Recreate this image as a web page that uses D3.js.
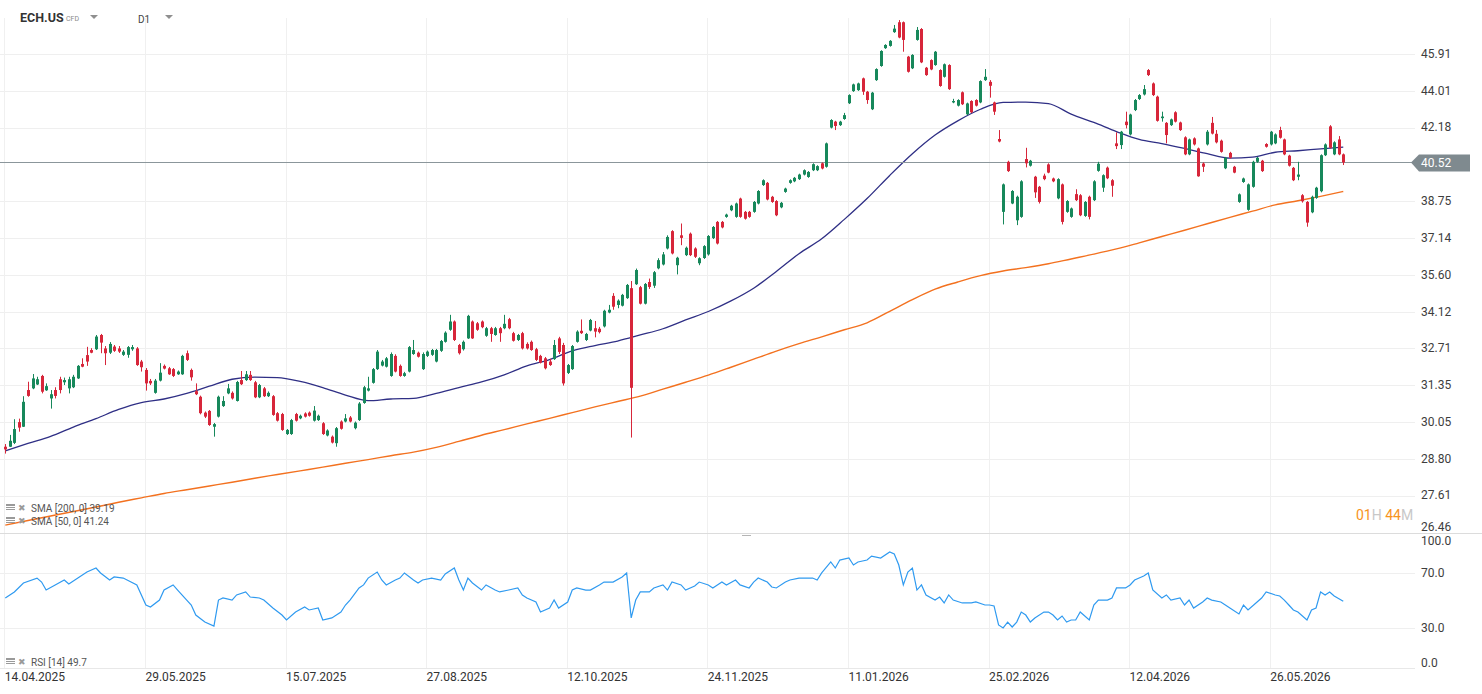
<!DOCTYPE html>
<html><head><meta charset="utf-8">
<script src="https://cdn.jsdelivr.net/npm/d3@7"></script>
<style>
body{margin:0;background:#fff;overflow:hidden}
svg{display:block;font-family:Roboto,"Noto Sans",sans-serif}
</style></head><body>
<svg id="c" width="1482" height="694"></svg>
<script>
// ---------- DATA ----------
const symbol = "ECH.US", symbolType = "CFD", interval = "D1";
const open = [
29.21,29.21,29.34,30.05,29.89,31.18,31.24,31.38,31.69,31.17,
30.88,31.18,31.57,31.46,31.24,31.28,31.60,32.13,32.46,32.65,
32.68,33.22,32.71,32.55,32.78,32.71,32.47,32.47,32.68,32.71,
32.22,31.91,31.51,31.08,31.52,32.06,31.97,31.94,31.75,31.75,
32.53,31.91,31.14,30.94,30.38,30.44,29.89,30.24,30.61,31.06,
31.08,30.79,31.54,31.54,31.73,31.46,30.92,31.24,30.96,30.96,
30.36,30.33,29.64,29.64,30.33,30.18,30.35,30.38,30.10,30.12,
30.01,29.59,29.55,29.33,30.07,30.07,30.21,29.84,30.12,30.72,
31.16,31.44,31.94,32.07,32.03,31.69,32.43,32.06,31.69,31.85,
32.50,32.55,31.94,32.43,32.47,32.22,32.62,32.96,33.42,33.74,
32.84,32.68,33.09,33.74,33.67,33.74,33.19,33.48,33.22,33.48,
33.48,33.83,33.29,33.03,33.29,32.88,32.96,32.68,32.43,32.34,
32.22,32.31,33.09,32.84,31.80,31.94,32.96,33.38,33.03,33.39,
33.48,33.46,33.55,34.09,34.75,34.39,34.36,34.66,35.06,35.22,
35.10,34.44,35.31,35.16,35.87,36.03,36.70,37.44,36.00,37.26,
36.42,37.33,36.70,36.08,36.30,36.45,37.14,37.84,37.84,38.06,
38.35,38.06,38.87,38.28,38.28,38.28,38.65,39.48,39.58,38.95,
38.76,38.48,39.17,39.58,39.65,39.75,39.96,39.85,40.16,40.16,
40.48,40.32,42.18,42.47,42.30,42.60,43.38,43.99,44.04,44.64,
43.96,43.08,44.55,45.28,46.22,46.34,47.08,47.62,47.62,45.77,
45.16,46.66,47.25,45.19,45.59,45.33,45.07,44.72,45.33,43.42,
43.26,43.93,42.83,43.49,43.54,43.42,44.55,44.46,43.42,41.63,
38.28,40.55,38.65,37.91,38.06,40.68,40.37,39.86,39.40,39.91,
40.43,39.78,38.88,39.51,38.28,38.06,39.07,39.02,38.10,38.95,
38.80,40.13,39.36,40.28,39.70,41.42,41.34,42.47,41.85,43.04,
43.59,43.82,45.07,44.38,43.71,42.64,42.41,42.30,42.93,42.43,
41.71,40.90,41.66,41.18,40.47,41.37,42.41,41.88,41.55,40.25,
40.97,40.32,38.72,39.62,38.37,39.40,40.55,40.60,41.39,41.37,
41.42,42.06,41.61,40.84,40.27,39.86,39.02,38.72,38.26,38.90,
39.20,40.86,42.24,40.90,41.61,40.90];
const high = [
29.30,29.61,30.15,30.17,30.96,31.48,31.76,31.66,31.73,31.42,
31.18,31.28,31.66,31.63,31.66,31.73,32.09,32.34,32.77,32.72,
33.22,33.26,32.80,32.95,32.84,32.80,32.65,32.80,32.84,32.76,
32.28,31.98,31.58,31.58,32.16,32.11,32.02,31.98,31.89,32.47,
32.63,31.96,31.42,30.98,30.42,30.47,30.02,30.98,30.96,31.40,
31.13,31.51,31.87,31.87,31.87,31.51,31.40,31.29,31.13,31.00,
30.40,30.37,29.81,30.16,30.37,30.31,30.39,30.42,30.61,30.31,
30.05,29.80,29.59,29.88,30.11,30.33,30.26,30.07,30.75,31.33,
31.66,31.98,32.65,32.28,32.39,32.56,32.49,32.11,31.84,32.80,
33.03,32.59,32.56,32.63,32.69,32.69,33.03,33.36,34.00,33.78,
32.88,33.01,34.00,33.78,33.72,33.78,33.53,33.53,33.53,33.53,
34.00,33.88,33.34,33.26,33.34,32.94,33.01,32.73,32.47,32.39,
32.32,33.03,33.15,32.92,32.13,32.84,33.40,33.82,33.30,33.84,
33.76,33.53,34.20,34.39,34.86,34.61,34.83,35.23,35.35,35.86,
35.15,35.27,35.45,35.76,36.29,36.55,37.26,37.48,36.35,37.77,
36.78,37.38,36.75,36.33,36.84,37.27,37.66,37.88,37.88,38.20,
38.59,38.69,38.91,38.32,38.32,38.76,39.25,39.74,39.62,38.99,
38.80,38.72,39.36,39.74,39.85,40.00,40.20,40.12,40.48,40.39,
40.52,41.46,42.59,42.51,42.51,42.90,43.83,44.37,44.42,44.68,
44.00,43.95,45.16,46.11,46.43,46.65,47.47,47.74,47.66,45.81,
45.90,47.36,47.30,45.23,45.63,46.07,45.11,45.41,45.37,43.60,
43.58,43.97,43.41,43.53,43.58,44.54,45.12,44.55,43.46,42.06,
39.55,40.60,39.25,39.00,39.70,41.21,40.64,39.90,39.44,40.00,
40.48,39.82,39.79,39.55,38.80,38.47,39.29,39.07,38.76,39.00,
39.70,40.55,39.97,40.33,39.75,41.95,42.02,42.96,42.86,43.59,
43.84,44.30,45.12,44.43,43.76,42.96,42.45,42.62,42.98,42.47,
41.76,41.65,41.71,41.22,40.52,42.06,42.70,42.06,41.60,40.78,
41.02,40.36,39.10,39.82,39.55,40.60,40.78,40.64,41.43,42.02,
41.90,42.22,41.65,40.88,40.31,40.55,39.07,38.76,39.00,39.40,
40.90,41.42,42.30,41.52,41.77,40.94];
const low = [
28.98,29.20,29.30,29.72,29.88,30.94,31.21,31.36,31.06,31.15,
30.52,30.88,31.06,31.36,31.06,31.25,31.58,32.01,32.06,32.53,
32.65,32.53,32.09,32.50,32.58,32.54,32.43,32.36,32.62,32.06,
31.85,31.16,31.36,31.05,31.49,31.93,31.73,31.65,31.73,31.73,
32.24,31.52,31.00,30.32,30.19,29.92,29.55,30.21,30.58,31.03,
30.84,30.77,31.36,31.51,31.51,30.89,30.89,30.93,30.93,30.27,
30.07,29.75,29.61,29.61,30.07,30.15,30.21,30.24,30.07,30.09,
29.61,29.56,29.32,29.21,29.79,30.04,30.04,29.80,30.09,30.69,
31.13,31.41,31.91,32.04,32.00,31.66,31.82,31.66,31.66,31.82,
32.47,32.37,31.91,32.39,32.43,32.19,32.58,32.93,33.38,32.99,
32.48,32.63,33.07,33.07,33.38,33.48,33.15,32.96,33.19,32.96,
33.44,33.44,32.97,32.99,32.67,32.67,32.62,32.24,32.15,31.93,
32.06,32.28,32.50,31.34,31.76,31.91,32.93,33.26,32.99,33.36,
33.13,33.28,33.51,34.06,34.20,34.26,34.33,34.63,29.52,35.19,
34.41,34.41,35.03,35.07,35.83,35.99,36.66,36.45,35.62,36.84,
36.38,36.38,36.30,36.00,36.26,36.40,37.10,36.87,37.56,38.02,
38.31,38.02,38.02,37.94,38.02,38.24,38.61,39.44,38.79,38.68,
38.09,38.44,39.13,39.54,39.61,39.71,39.92,39.81,40.12,40.12,
40.20,40.28,42.14,42.06,42.26,42.56,43.34,43.95,44.00,43.80,
43.35,43.04,44.51,45.24,46.18,46.30,47.04,46.75,46.03,44.94,
45.12,46.62,45.43,44.77,45.06,45.29,44.21,44.68,44.05,43.38,
43.22,43.29,42.79,42.89,43.22,43.38,44.51,43.66,42.80,41.47,
37.73,40.08,38.62,37.70,38.02,40.29,40.33,38.90,38.65,39.70,
40.02,39.61,38.84,37.73,38.24,38.02,38.76,38.09,38.06,37.95,
38.76,40.09,39.17,39.75,38.95,41.15,41.15,42.14,41.80,42.99,
43.54,43.77,44.76,43.74,42.47,42.47,41.42,42.26,42.43,42.02,
40.86,40.86,41.32,39.86,40.08,41.32,41.85,41.42,40.98,40.21,
40.70,40.02,38.68,39.58,38.33,39.36,40.50,40.08,41.22,41.32,
41.38,41.65,40.86,40.33,39.66,39.70,38.69,37.63,38.22,38.86,
39.15,40.82,41.17,40.86,40.86,40.40];
const close = [
29.12,29.41,29.81,29.86,30.76,30.97,31.60,31.57,31.12,31.32,
31.03,30.97,31.18,31.54,31.57,31.66,32.06,32.03,32.22,32.55,
33.16,32.93,32.53,32.88,32.62,32.59,32.59,32.76,32.76,32.09,
32.01,31.42,31.42,31.52,31.81,31.96,31.75,31.69,31.85,32.43,
32.28,31.64,31.03,30.36,30.24,29.95,29.98,30.94,30.79,31.24,
30.88,31.47,31.39,31.75,31.54,30.92,31.36,30.96,31.08,30.30,
30.10,29.78,29.78,30.12,30.10,30.27,30.24,30.27,30.45,30.27,
29.64,29.76,29.35,29.84,29.82,30.18,30.07,30.03,30.70,31.28,
31.24,31.94,32.59,32.22,32.34,32.50,31.85,31.69,31.79,32.76,
32.65,32.40,32.50,32.59,32.65,32.65,32.99,33.31,33.74,33.03,
32.53,32.96,33.96,33.09,33.42,33.52,33.48,33.26,33.48,33.29,
33.65,33.48,33.00,33.22,32.71,32.71,32.65,32.28,32.18,31.97,
32.09,32.84,32.58,31.42,32.09,32.80,33.35,33.29,33.26,33.80,
33.35,33.33,34.16,34.20,34.32,34.56,34.79,35.19,31.26,35.80,
34.44,35.23,35.11,35.71,36.21,36.45,37.19,36.49,36.31,37.15,
36.73,36.42,36.35,36.29,36.80,37.23,37.62,36.91,37.60,38.16,
38.55,38.65,38.06,37.98,38.06,38.72,39.21,39.70,38.83,38.72,
38.13,38.68,39.32,39.70,39.81,39.96,40.16,40.08,40.44,40.35,
40.24,41.42,42.55,42.26,42.47,42.79,43.79,44.33,44.38,43.96,
43.54,43.91,45.12,46.07,46.39,46.61,47.27,46.79,46.66,44.98,
45.86,47.20,45.47,44.81,45.10,46.03,44.25,45.37,44.09,43.49,
43.54,43.33,43.37,42.93,43.26,44.50,44.72,44.26,42.96,41.51,
39.51,40.12,39.21,38.95,39.65,40.48,40.60,39.15,38.72,39.75,
40.05,39.65,39.75,37.84,38.76,38.43,38.80,38.13,38.72,38.06,
39.65,40.46,39.93,39.79,39.45,41.29,41.98,42.30,42.82,43.54,
43.79,44.09,44.81,43.79,42.51,42.72,41.82,42.58,42.47,42.06,
40.90,41.61,41.37,39.88,40.32,41.98,41.89,41.47,41.02,40.74,
40.74,40.05,39.06,39.78,39.51,40.55,40.74,40.12,41.26,41.98,
41.85,41.69,40.90,40.37,39.70,39.96,38.75,37.81,38.95,39.36,
40.86,41.37,41.21,41.47,40.90,40.52];

// moving averages at every 5th bar
const smaIdx = [0,5,10,15,20,25,30,35,40,45,50,55,60,65,70,75,80,85,90,95,100,105,110,115,120,125,130,135,140,145,150,155,160,165,170,175,180,185,190,195,200,205,210,215,220,225,230,235,240,245,250,255,260,265,270,275,280,285,290,295];
const sma50 = [29.07,29.32,29.56,29.88,30.17,30.49,30.73,30.86,31.06,31.32,31.57,31.65,31.63,31.49,31.27,31.00,30.80,30.86,30.88,31.06,31.27,31.47,31.73,32.06,32.29,32.62,32.82,32.99,33.22,33.46,33.80,34.13,34.55,35.06,35.74,36.48,37.11,37.95,38.87,39.92,40.93,41.82,42.51,43.08,43.42,43.44,43.36,42.84,42.43,41.99,41.61,41.41,41.18,40.93,40.72,40.77,41.00,41.07,41.16,41.24];
const sma200 = [26.69,26.83,26.97,27.11,27.25,27.40,27.54,27.68,27.80,27.92,28.04,28.17,28.29,28.41,28.53,28.66,28.78,28.91,29.03,29.19,29.39,29.60,29.79,29.99,30.18,30.38,30.58,30.77,30.96,31.21,31.46,31.72,32.01,32.31,32.61,32.89,33.15,33.42,33.69,34.14,34.60,35.02,35.31,35.57,35.76,35.90,36.06,36.26,36.46,36.68,36.94,37.21,37.48,37.76,38.04,38.31,38.59,38.77,38.97,39.19];

// RSI(14)
const rsiIdx = [0,2,4,7,8,9,11,13,14,16,18,20,21,23,24,26,29,31,32,34,35,37,38,40,41,42,44,46,47,48,50,51,53,54,56,57,59,61,62,64,66,67,69,70,72,74,75,76,78,79,80,82,83,84,86,87,88,90,91,92,94,96,97,99,100,101,102,103,105,106,108,109,111,113,114,115,117,118,120,121,122,124,125,126,128,129,131,132,134,136,137,138,139,140,142,143,145,146,147,149,150,152,153,155,156,158,159,161,162,164,165,166,168,169,170,172,173,175,177,178,179,180,182,183,184,186,187,188,190,191,193,195,196,197,198,199,200,201,202,203,205,206,207,208,209,211,213,214,216,217,218,219,220,221,222,223,224,225,226,227,229,230,231,232,233,234,235,236,237,239,240,241,243,244,245,247,248,249,251,252,253,255,256,257,259,260,261,262,264,265,266,268,269,270,272,273,274,276,277,278,280,281,282,283,284,285,287,288,289,290,291,292,293,295];
const rsiVal = [52.0,56.4,62.9,66.5,63.6,57.8,61.5,65.1,62.2,66.5,70.9,73.8,70.2,65.1,67.3,66.5,61.5,46.9,45.5,50.5,57.8,61.5,57.8,50.5,46.9,39.6,34.5,31.6,50.5,52.0,50.5,54.2,56.4,52.7,52.0,50.5,44.7,39.6,36.0,41.8,45.5,43.3,44.7,36.0,37.5,41.8,46.9,50.5,59.3,61.5,66.5,70.9,65.1,61.5,65.1,66.5,70.2,65.1,62.9,65.1,66.5,65.1,69.5,73.8,65.1,57.8,66.5,62.9,57.8,61.5,57.8,56.4,57.8,59.3,54.2,52.0,49.1,41.8,44.7,50.5,44.7,49.1,57.8,59.3,57.8,57.8,61.5,63.6,63.6,67.3,70.2,37.5,50.5,56.4,56.4,59.3,61.5,57.8,63.6,61.5,57.8,60.7,63.6,61.5,59.3,63.6,61.5,65.1,61.5,59.3,63.6,66.5,63.6,60.0,59.3,63.6,65.1,66.5,66.5,66.5,65.1,70.2,78.2,73.8,79.6,81.1,76.0,78.2,79.6,82.5,81.1,85.5,84.0,76.0,61.5,70.9,73.8,57.8,61.5,54.2,50.5,52.7,48.4,54.2,50.5,48.4,48.4,49.1,46.9,46.9,46.2,32.4,30.2,34.5,30.9,34.5,41.8,39.6,34.5,37.5,41.8,41.8,39.6,36.0,38.9,34.5,36.0,36.0,41.8,36.0,46.9,50.5,50.5,52.0,59.3,59.3,61.5,65.1,68.0,70.2,57.8,52.0,54.2,50.5,52.0,46.9,50.5,44.7,49.1,52.0,50.5,49.1,46.9,44.7,40.4,46.9,43.3,49.1,52.0,56.4,54.2,53.5,50.5,46.9,43.3,41.8,36.0,43.3,44.7,56.4,54.2,56.4,53.5,49.7];

const priceTicks = [45.91,44.01,42.18,38.75,37.14,35.60,34.12,32.71,31.35,30.05,28.80,27.61,26.46];
const rsiTicks = [100,70,30,0];
const dateIdx = [0,31,62,93,124,155,186,217,248,279];
const dateLabels = ["14.04.2025","29.05.2025","15.07.2025","27.08.2025","12.10.2025","24.11.2025","11.01.2026","25.02.2026","12.04.2026","26.05.2026"];
const lastPrice = 40.52;
const sma200Last = 39.19, sma50Last = 41.24, rsiLast = 49.7;
const countdown = [["01","#f7941d"],["H","#c8c8c8"],[" 44","#f7941d"],["M","#c8c8c8"]];

// ---------- LAYOUT ----------
const svg = d3.select("#c");
const plotRight = 1415;
const pTop = 18, pBottom = 533, rBottom = 668;
const x = d3.scaleLinear().domain([0, 31]).range([5.3, 145.9]);
const y = d3.scaleLog().domain([26.46, 45.91]).range([532.6, 54]);
const yr = d3.scaleLinear().domain([0, 100]).range([669.5, 532]);

const green = "#17885b", red = "#d7263a";

// grid
const grid = svg.append("g");
grid.selectAll("line.h").data(priceTicks).join("line")
  .attr("x1", 0).attr("x2", plotRight)
  .attr("y1", d => Math.round(y(d)) + 0.5).attr("y2", d => Math.round(y(d)) + 0.5)
  .attr("stroke", "#efefef");
grid.selectAll("line.r").data([70, 30]).join("line")
  .attr("x1", 0).attr("x2", plotRight)
  .attr("y1", d => Math.round(yr(d)) + 0.5).attr("y2", d => Math.round(yr(d)) + 0.5)
  .attr("stroke", "#efefef");
grid.selectAll("line.v").data(dateIdx).join("line")
  .attr("x1", d => Math.round(x(d)) - 0.5).attr("x2", d => Math.round(x(d)) - 0.5)
  .attr("y1", pTop).attr("y2", rBottom)
  .attr("stroke", "#f0f0f0");
svg.append("line").attr("x1", 0).attr("x2", plotRight).attr("y1", rBottom + 0.5).attr("y2", rBottom + 0.5).attr("stroke", "#e8e8e8");
svg.append("line").attr("x1", 0).attr("x2", 1482).attr("y1", pBottom + 0.5).attr("y2", pBottom + 0.5).attr("stroke", "#dcdcdc");
svg.append("line").attr("x1", 742).attr("x2", 751).attr("y1", 535.5).attr("y2", 535.5).attr("stroke", "#b5b5b5");

// moving averages
const maLine = d3.line().x(d => x(d[0])).y(d => y(d[1])).curve(d3.curveMonotoneX);
svg.append("path").datum(d3.zip(smaIdx, sma200)).attr("d", maLine)
  .attr("fill", "none").attr("stroke", "#f3711f").attr("stroke-width", 1.4);
svg.append("path").datum(d3.zip(smaIdx, sma50)).attr("d", maLine)
  .attr("fill", "none").attr("stroke", "#2f2f85").attr("stroke-width", 1.3);

// current price line
svg.append("line").attr("x1", 0).attr("x2", 1412)
  .attr("y1", Math.round(y(lastPrice)) + 0.5).attr("y2", Math.round(y(lastPrice)) + 0.5)
  .attr("stroke", "#8b969b");

// candles
const bars = d3.range(open.length).map(i => ({i, o: open[i], h: high[i], l: low[i], c: close[i]}));
const cg = svg.append("g");
cg.selectAll("line").data(bars).join("line")
  .attr("x1", d => Math.round(x(d.i)) + 0.5).attr("x2", d => Math.round(x(d.i)) + 0.5)
  .attr("y1", d => y(d.h)).attr("y2", d => y(d.l))
  .attr("stroke", d => d.c >= d.o ? green : red).attr("stroke-width", 1);
cg.selectAll("rect").data(bars).join("rect")
  .attr("x", d => Math.round(x(d.i)) - 1)
  .attr("width", 3)
  .attr("y", d => y(Math.max(d.o, d.c)))
  .attr("height", d => Math.max(1, Math.abs(y(d.o) - y(d.c))))
  .attr("fill", d => d.c >= d.o ? green : red);

// RSI
svg.append("path").datum(d3.zip(rsiIdx, rsiVal))
  .attr("d", d3.line().x(d => x(d[0])).y(d => yr(d[1])))
  .attr("fill", "none").attr("stroke", "#2f9af0").attr("stroke-width", 1.2);

// price axis
const clampP = v => Math.max(pTop + 8, Math.min(pBottom - 6, v));
const ax = svg.append("g").attr("transform", "translate(1421,0)")
  .call(d3.axisRight(y).tickValues(priceTicks).tickFormat(d3.format(".2f")).tickSize(0).tickPadding(0));
ax.select(".domain").remove();
ax.selectAll(".tick").attr("transform", d => `translate(0,${clampP(y(d))})`);
ax.selectAll("text").attr("font-size", 12).attr("fill", "#3d3d3d").attr("font-family", "Roboto");

// rsi axis
const clampR = v => Math.max(pBottom + 8, Math.min(rBottom - 5, v));
const rax = svg.append("g").attr("transform", "translate(1421,0)")
  .call(d3.axisRight(yr).tickValues(rsiTicks).tickFormat(d3.format(".1f")).tickSize(0).tickPadding(0));
rax.select(".domain").remove();
rax.selectAll(".tick").attr("transform", d => `translate(0,${clampR(yr(d))})`);
rax.selectAll("text").attr("font-size", 12).attr("fill", "#3d3d3d").attr("font-family", "Roboto");

// date axis
const xax = svg.append("g").attr("transform", `translate(0,${rBottom})`)
  .call(d3.axisBottom(x).tickValues(dateIdx).tickFormat((d, i) => dateLabels[i]).tickSize(0).tickPadding(4));
xax.select(".domain").remove();
xax.selectAll("text").attr("text-anchor", "start").attr("dx", -1).attr("font-size", 12)
  .attr("fill", "#333").attr("font-family", "Roboto");

// last price label
const ly = Math.round(y(lastPrice)) + 0.5;
svg.append("path")
  .attr("d", `M1411,${ly} L1419,${ly - 8} L1470,${ly - 8} L1470,${ly + 9} L1419,${ly + 9} Z`)
  .attr("fill", "#7f8a8f");
svg.append("text").attr("x", 1421).attr("y", ly + 4.5).text(d3.format(".2f")(lastPrice))
  .attr("fill", "#fff").attr("font-size", 12);

// countdown
const cd = svg.append("text").attr("x", 1356).attr("y", 520).attr("font-size", 14);
countdown.forEach(([t, c]) => cd.append("tspan").text(t).attr("fill", c));

// header
svg.append("text").attr("x", 20).attr("y", 22).text(symbol).attr("font-size", 12.5).attr("font-weight", "bold").attr("fill", "#333");
svg.append("text").attr("x", 66).attr("y", 21).text(symbolType).attr("font-size", 7).attr("fill", "#8a8a8a");
svg.append("text").attr("x", 138).attr("y", 23).text(interval).attr("font-size", 10).attr("fill", "#444");
[[90, 15], [165, 15]].forEach(([tx, ty]) => svg.append("path")
  .attr("d", `M${tx},${ty} L${tx + 8},${ty} L${tx + 4},${ty + 4} Z`).attr("fill", "#8f8f8f"));

// legends
function legend(yy, label) {
  const g = svg.append("g");
  g.append("rect").attr("x", 6).attr("y", yy - 7).attr("width", 9).attr("height", 2).attr("fill", "#9a9a9a");
  g.append("rect").attr("x", 6).attr("y", yy - 4).attr("width", 9).attr("height", 1).attr("fill", "#9a9a9a");
  g.append("rect").attr("x", 6).attr("y", yy - 2).attr("width", 9).attr("height", 1).attr("fill", "#9a9a9a");
  g.append("text").attr("x", 18).attr("y", yy).text("\u2716").attr("font-size", 9).attr("fill", "#9a9a9a");
  g.append("text").attr("x", 31).attr("y", yy + 1).text(label).attr("font-size", 10).attr("fill", "#555");
}
legend(511, `SMA [200, 0] ${sma200Last.toFixed(2)}`);
legend(524, `SMA [50, 0] ${sma50Last.toFixed(2)}`);
legend(665, `RSI [14] ${rsiLast.toFixed(1)}`);
</script>
</body></html>
